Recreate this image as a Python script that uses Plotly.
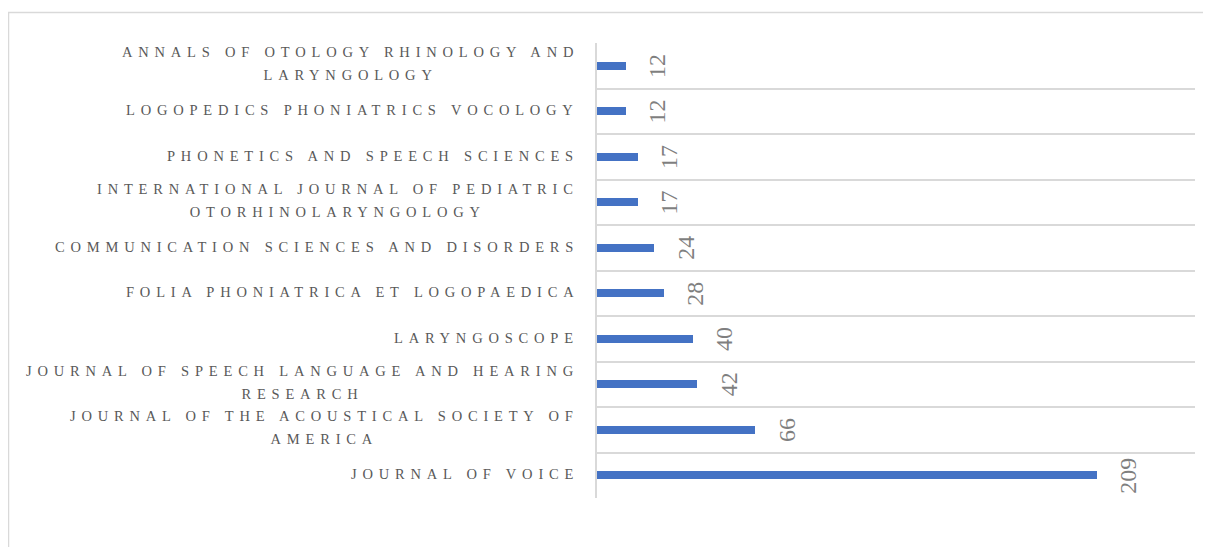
import plotly.graph_objects as go

# Data (bottom to top as drawn)
journals = [
    "JOURNAL OF VOICE",
    "JOURNAL OF THE ACOUSTICAL SOCIETY OF<br>AMERICA",
    "JOURNAL OF SPEECH LANGUAGE AND HEARING<br>RESEARCH",
    "LARYNGOSCOPE",
    "FOLIA PHONIATRICA ET LOGOPAEDICA",
    "COMMUNICATION SCIENCES AND DISORDERS",
    "INTERNATIONAL JOURNAL OF PEDIATRIC<br>OTORHINOLARYNGOLOGY",
    "PHONETICS AND SPEECH SCIENCES",
    "LOGOPEDICS PHONIATRICS VOCOLOGY",
    "ANNALS OF OTOLOGY RHINOLOGY AND<br>LARYNGOLOGY",
]
counts = [209, 66, 42, 40, 28, 24, 17, 17, 12, 12]

W, H = 1211, 547
ML, MR, MT, MB = 589, 24, 35, 57
PW, PH = W - ML - MR, H - MT - MB

SERIF = "Liberation Serif, Palatino Linotype, serif"
LABEL_SIZE = 14.5
LS = 5.8  # letter spacing for category labels
LINE_PX = 23  # distance between label lines
LABEL_FONT = dict(family=SERIF, size=LINE_PX / 1.3, color="#595959")
VALUE_FONT = dict(family=SERIF, size=24, color="#7f7f7f")

ypos = list(range(len(journals)))

fig = go.Figure()
fig.add_trace(go.Bar(
    x=counts, y=ypos, orientation="h", width=0.18,
    marker=dict(color="#4472C4", line=dict(width=0)),
    hoverinfo="x+y", showlegend=False,
))

span = f'<span style="font-size:{LABEL_SIZE}px;letter-spacing:{LS}px">'
annotations = []
# category labels
for yi, name in zip(ypos, journals):
    lines = name.split("<br>")
    txt = "<br>".join(f"{span}{ln}</span>" for ln in lines)
    annotations.append(dict(
        x=0, y=yi, xref="x", yref="y", text=txt, showarrow=False,
        xanchor="right", yanchor="middle", align="center",
        xshift=-21 + LS - 1, yshift=1 if len(lines) == 1 else 2, font=LABEL_FONT,
    ))
# value labels
for yi, v in zip(ypos, counts):
    annotations.append(dict(
        x=v, y=yi, xref="x", yref="y", text=str(v), showarrow=False,
        xanchor="center", yanchor="middle", textangle=-90,
        xshift=31.5, yshift=0, font=VALUE_FONT,
    ))

# outer border
bx0 = (0.5 - ML) / PW
by1 = 1 + (MT - 4.5) / PH
shapes = [dict(type="rect", xref="paper", yref="paper",
               x0=bx0, x1=(W + 20 - ML) / PW, y0=-(MB + 20) / PH, y1=by1,
               line=dict(color="#d9d9d9", width=1.5), fillcolor="rgba(0,0,0,0)", layer="below")]

fig.update_layout(
    width=W, height=H,
    margin=dict(l=ML, r=MR, t=MT, b=MB, pad=0),
    paper_bgcolor="white", plot_bgcolor="white",
    xaxis=dict(range=[0, 250], showgrid=False, zeroline=False, showticklabels=False,
               showline=False, ticks="", fixedrange=True),
    yaxis=dict(range=[-0.5, len(journals) - 0.5], tickmode="array",
               tickvals=[i - 0.5 for i in range(len(journals) + 1)],
               showticklabels=False, ticks="", showgrid=True, gridcolor="#d9d9d9",
               gridwidth=2, zeroline=False, showline=True, linecolor="#d9d9d9",
               linewidth=2, fixedrange=True),
    annotations=annotations,
    shapes=shapes,
    bargap=0,
)

fig.write_html("out.html")
